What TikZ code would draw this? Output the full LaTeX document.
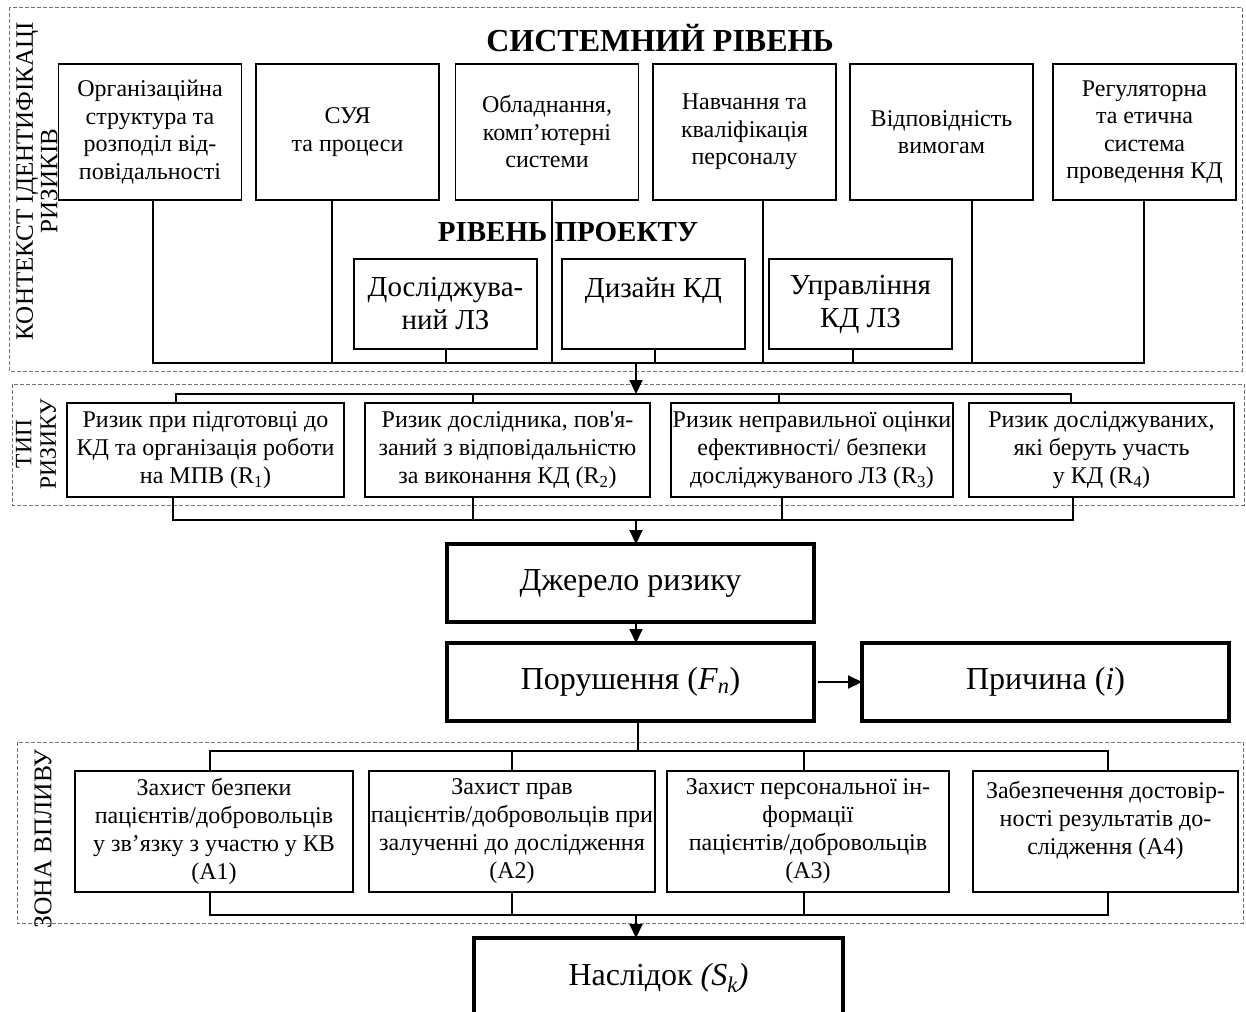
\documentclass[tikz,border=0pt]{standalone}
\usepackage{fontspec}
\setmainfont{Liberation Serif}
\usetikzlibrary{arrows.meta}
\begin{document}
\begin{tikzpicture}[x=1pt,y=-1pt,
  every node/.style={inner sep=0pt, outer sep=0pt},
  sbox/.style={draw, line width=1.1pt, align=center, minimum width=183, minimum height=136, font=\fontsize{24}{27.5}\selectfont},
  pbox/.style={draw, line width=1.1pt, align=center, minimum width=183, minimum height=90, font=\fontsize{29}{33}\selectfont},
  rbox/.style={draw, line width=1.1pt, align=center, minimum height=94, font=\fontsize{24}{28}\selectfont},
  abox/.style={draw, line width=1.1pt, align=center, minimum height=121, font=\fontsize{24}{28}\selectfont},
  bbox/.style={draw, line width=4pt, align=center, minimum width=367, minimum height=78, font=\fontsize{32}{36}\selectfont},
  zone/.style={draw=black!55, line width=0.9pt, dash pattern=on 4pt off 2pt},
  bus/.style={line width=2pt},
  arr/.style={line width=2pt, -{Triangle[length=14pt,width=13pt]}},
  side/.style={rotate=90, align=center},
  ttl/.style={font=\fontsize{32}{36}\bfseries\selectfont},
  ttlb/.style={font=\fontsize{29}{34}\bfseries\selectfont}
]
\useasboundingbox (0,0) rectangle (1246,1011);
\clip (0,0) rectangle (1246,1011);

% zones
\draw[zone] (9,7) rectangle (1242,371);
\draw[zone] (12,384) rectangle (1244,505);
\draw[zone] (17,742) rectangle (1243,923);

% side labels
\node[side, font=\fontsize{25}{24.5}\selectfont] (lctx) at (37,181) {КОНТЕКСТ ІДЕНТИФІКАЦІ\\РИЗИКІВ};
\node[side, font=\fontsize{23.5}{24.5}\selectfont] (ltype) at (36,444) {ТИП\\РИЗИКУ};
\node[side, font=\fontsize{25.5}{26}\selectfont] (lzone) at (43,839) {ЗОНА ВПЛИВУ};

% titles
\node[ttl] (tsys) at (660,38) {СИСТЕМНИЙ РІВЕНЬ};
\node[ttlb] (tproj) at (568,232) {РІВЕНЬ ПРОЕКТУ};

% system level boxes
\node[sbox] (s1) at (150,132) {Організаційна\\структура та\\розподіл від-\\повідальності};
\node[sbox] (s2) at (347.5,132) {СУЯ\\та процеси};
\node[sbox] (s3) at (547,132) {Обладнання,\\комп’ютерні\\системи};
\node[sbox] (s4) at (744.5,132) {Навчання та\\кваліфікація\\персоналу};
\node[sbox] (s5) at (941.5,132) {Відповідність\\вимогам};
\node[sbox] (s6) at (1144.5,132) {Регуляторна\\та етична\\система\\проведення КД};

% project level boxes
\node[pbox] (p1) at (445.5,304) {Досліджува-\\ний ЛЗ};
\node[pbox] (p2) at (653.5,304) {Дизайн КД\\\mbox{}};
\node[pbox] (p3) at (860.5,304) {Управління\\КД ЛЗ};

% bus 1
\coordinate (b1) at (636,363);
\coordinate (b2) at (636,394);
\draw[bus] (153,0 |- s1.south) -- (153,363) -- (1144,363) -- (1144,0 |- s6.south);
\draw[bus] (332,0 |- s2.south) -- (332,363);
\draw[bus] (552,0 |- s3.south) -- (552,363);
\draw[bus] (763,0 |- s4.south) -- (763,363);
\draw[bus] (972,0 |- s5.south) -- (972,363);
\draw[bus] (446,0 |- p1.south) -- (446,363);
\draw[bus] (655,0 |- p2.south) -- (655,363);
\draw[bus] (853,0 |- p3.south) -- (853,363);
\draw[arr] (b1) -- (b2);

% risk type boxes
\node[rbox, minimum width=277] (r1) at (205.5,450) {Ризик при підготовці до\\КД та організація роботи\\на МПВ (R\textsubscript{1})};
\node[rbox, minimum width=285] (r2) at (507.5,450) {Ризик дослідника, пов\textquotesingle я-\\заний з відповідальністю\\за виконання КД (R\textsubscript{2})};
\node[rbox, minimum width=282] (r3) at (812,450) {Ризик неправильної оцінки\\ефективності/ безпеки\\досліджуваного ЛЗ (R\textsubscript{3})};
\node[rbox, minimum width=265] (r4) at (1101.5,450) {Ризик досліджуваних,\\які беруть участь\\у КД (R\textsubscript{4})};

\draw[bus] (176,0 |- r1.north) -- (176,394) -- (1071,394) -- (1071,0 |- r4.north);
\draw[bus] (473,394) -- (473,0 |- r2.north);
\draw[bus] (779,394) -- (779,0 |- r3.north);
\draw[bus] (173,0 |- r1.south) -- (173,520) -- (1073,520) -- (1073,0 |- r4.south);
\draw[bus] (473,0 |- r2.south) -- (473,520);
\draw[bus] (782,0 |- r3.south) -- (782,520);
\coordinate (b3) at (636,520);

% central chain
\node[bbox] (src) at (630.5,583) {Джерело ризику};
\node[bbox] (fail) at (630.5,682) {Порушення (\textit{F}\textsubscript{\textit{n}})};
\node[bbox] (cause) at (1045.5,682) {Причина (\textit{i})};
\draw[arr] (b3) -- (636,0 |- src.north);
\draw[arr] (636,0 |- src.south) -- (636,0 |- fail.north);
\draw[arr] (818,0 |- fail.east) -- (cause.west);

% impact zone boxes
\node[abox, minimum width=278] (a1) at (214,831.5) {Захист безпеки\\пацієнтів/добровольців\\у зв’язку з участю у КВ\\(А1)};
\node[abox, minimum width=286] (a2) at (512,831.5) {Захист прав\\пацієнтів/добровольців при\\залученні до дослідження\\(А2)};
\node[abox, minimum width=282] (a3) at (808,831.5) {Захист персональної ін-\\формації\\пацієнтів/добровольців\\(А3)};
\node[abox, minimum width=265] (a4) at (1105.5,831.5) {Забезпечення достовір-\\ності результатів до-\\слідження (А4)\\\mbox{}};

\coordinate (b4) at (638,751);
\draw[bus] (638,0 |- fail.south) -- (b4);
\draw[bus] (210,0 |- a1.north) -- (210,751) -- (1108,751) -- (1108,0 |- a4.north);
\draw[bus] (512,751) -- (512,0 |- a2.north);
\draw[bus] (804,751) -- (804,0 |- a3.north);
\draw[bus] (210,0 |- a1.south) -- (210,915) -- (1108,915) -- (1108,0 |- a4.south);
\draw[bus] (512,0 |- a2.south) -- (512,915);
\draw[bus] (804,0 |- a3.south) -- (804,915);
\coordinate (b5) at (636,915);

\node[bbox, minimum width=369, minimum height=80] (res) at (658.5,978) {Наслідок \textit{(S\textsubscript{k})}};
\draw[arr] (b5) -- (636,0 |- res.north);
\end{tikzpicture}
\end{document}
